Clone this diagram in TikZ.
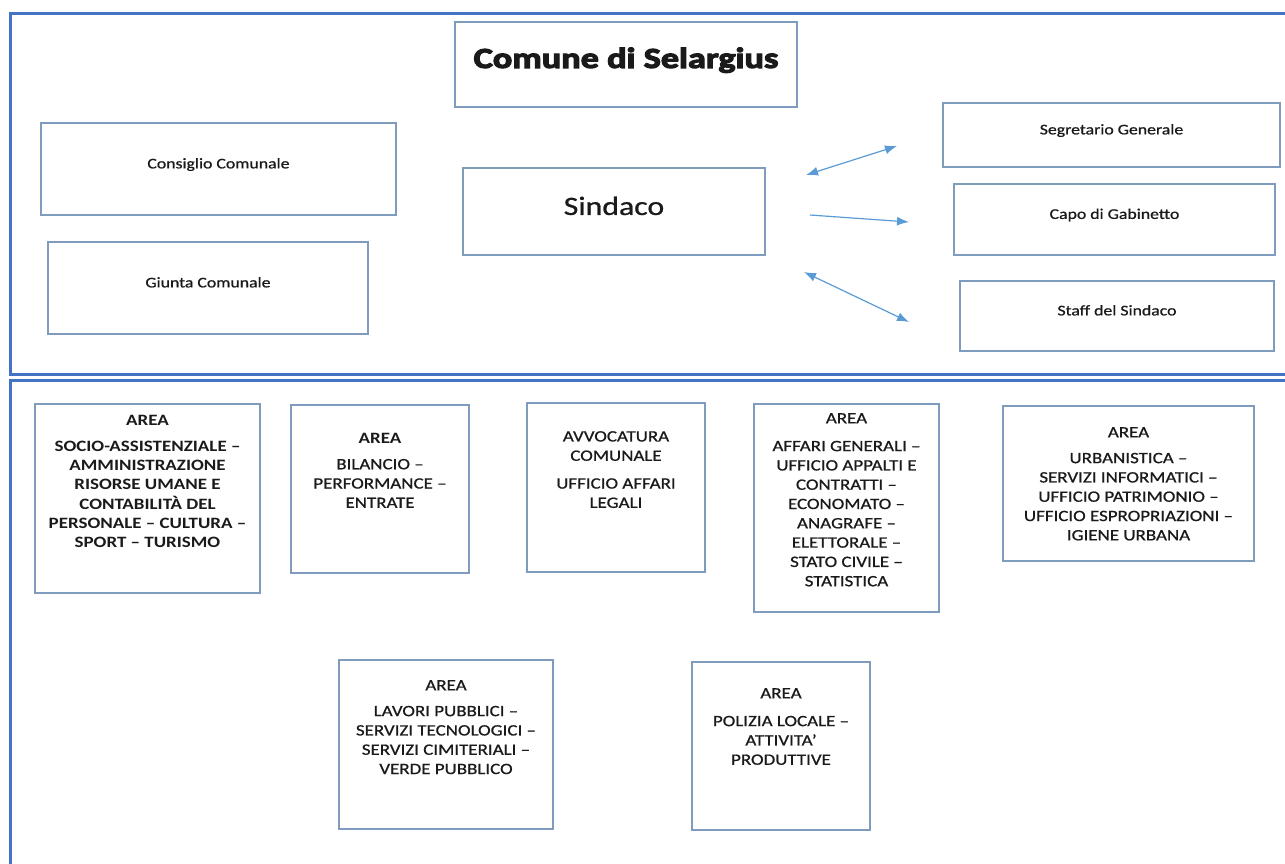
\documentclass[tikz,border=0pt]{standalone}
\usepackage{fontspec}
\setmainfont{Carlito}[FakeStretch=1.2,UprightFeatures={FakeBold=0.8}]
\newfontfamily\titlefont{Carlito}[FakeStretch=1.25,BoldFeatures={FakeBold=4}]
\usetikzlibrary{arrows.meta}
\definecolor{framecol}{HTML}{4472C4}
\definecolor{boxcol}{HTML}{7F9CBE}
\definecolor{arrcol}{HTML}{5B9BD5}
\definecolor{txtcol}{HTML}{1A1A1A}

\begin{document}
\begin{tikzpicture}[x=1pt,y=-1pt,
  frame/.style={draw=framecol, line width=3pt},
  orgbox/.style={draw=boxcol, line width=1.5pt, inner sep=0pt, text=txtcol,
    font=\fontsize{14.8}{18}\selectfont, text depth=11.5pt},
  areabox/.style={draw=boxcol, line width=1.5pt, inner sep=0pt},
  areatext/.style={anchor=north, inner sep=0pt, align=center, text=txtcol,
    font=\fontsize{15.8}{19.3}\selectfont},
  link/.style={draw=arrcol, line width=1.2pt},
  >={Latex[length=12pt,width=9pt]}]
\useasboundingbox (0,0) rectangle (1285,863);

\coordinate (sg1) at (806,175);
\coordinate (sg2) at (897,146);
\coordinate (cg1) at (810,215);
\coordinate (cg2) at (909,222);
\coordinate (st1) at (804,272);
\coordinate (st2) at (909,322);

\draw[frame] (10,13) rectangle (1300,374);
\draw[frame] (10,380) rectangle (1300,880);

\node[orgbox, minimum width=342, minimum height=85, text depth=13.5pt,
  font=\titlefont\bfseries\fontsize{29}{31}\selectfont] (comune) at (626,64.5) {Comune di Selargius};
\node[orgbox, minimum width=355, minimum height=92] (consiglio) at (218.5,169) {Consiglio Comunale};
\node[orgbox, minimum width=320, minimum height=92] (giunta) at (208,288) {Giunta Comunale};
\node[orgbox, minimum width=302, minimum height=87, font=\fontsize{26.5}{30}\selectfont] (sindaco) at (614,211.5) {Sindaco};
\node[orgbox, minimum width=337, minimum height=64] (segretario) at (1111.5,135) {Segretario Generale};
\node[orgbox, minimum width=321, minimum height=71] (capo) at (1114.5,219.5) {Capo di Gabinetto};
\node[orgbox, minimum width=314, minimum height=70] (staff) at (1117,316) {Staff del Sindaco};

\draw[link, <->] (sg1) -- (sg2);
\draw[link, ->] (cg1) -- (cg2);
\draw[link, <->] (st1) -- (st2);

\node[areabox, minimum width=225, minimum height=189] (a1) at (147.5,498.5) {};
\node[areabox, minimum width=178, minimum height=168] (a2) at (380,489) {};
\node[areabox, minimum width=178, minimum height=169] (a3) at (616,487.5) {};
\node[areabox, minimum width=185, minimum height=208] (a4) at (846.5,508) {};
\node[areabox, minimum width=251, minimum height=155] (a5) at (1128.5,483.5) {};
\node[areabox, minimum width=214, minimum height=169] (a6) at (446,744.5) {};
\node[areabox, minimum width=178, minimum height=168] (a7) at (781,746) {};

\node[areatext, font=\bfseries\fontsize{15.8}{19.3}\selectfont] (t1) at (147.5,415) {AREA\\[6.5pt]
  SOCIO-ASSISTENZIALE --\\ AMMINISTRAZIONE\\ RISORSE UMANE E\\ CONTABILITÀ DEL\\
  PERSONALE -- CULTURA --\\ SPORT -- TURISMO};
\node[areatext] (t2) at (380,433) {\textbf{AREA}\\[6.5pt] BILANCIO --\\ PERFORMANCE --\\ ENTRATE};
\node[areatext] (t3) at (616,431) {AVVOCATURA\\ COMUNALE\\[8.5pt] UFFICIO AFFARI\\ LEGALI};
\node[areatext] (t4) at (846.5,413) {AREA\\[8.5pt] AFFARI GENERALI --\\ UFFICIO APPALTI E\\
  CONTRATTI --\\ ECONOMATO --\\ ANAGRAFE --\\ ELETTORALE --\\ STATO CIVILE --\\ STATISTICA};
\node[areatext] (t5) at (1128.5,427) {AREA\\[6.5pt] URBANISTICA --\\ SERVIZI INFORMATICI --\\
  UFFICIO PATRIMONIO --\\ UFFICIO ESPROPRIAZIONI --\\ IGIENE URBANA};
\node[areatext] (t6) at (446,680) {AREA\\[6.5pt] LAVORI PUBBLICI --\\ SERVIZI TECNOLOGICI --\\
  SERVIZI CIMITERIALI --\\ VERDE PUBBLICO};
\node[areatext] (t7) at (781,688) {AREA\\[8.5pt] POLIZIA LOCALE --\\ ATTIVITA'\\ PRODUTTIVE};
\end{tikzpicture}
\end{document}
